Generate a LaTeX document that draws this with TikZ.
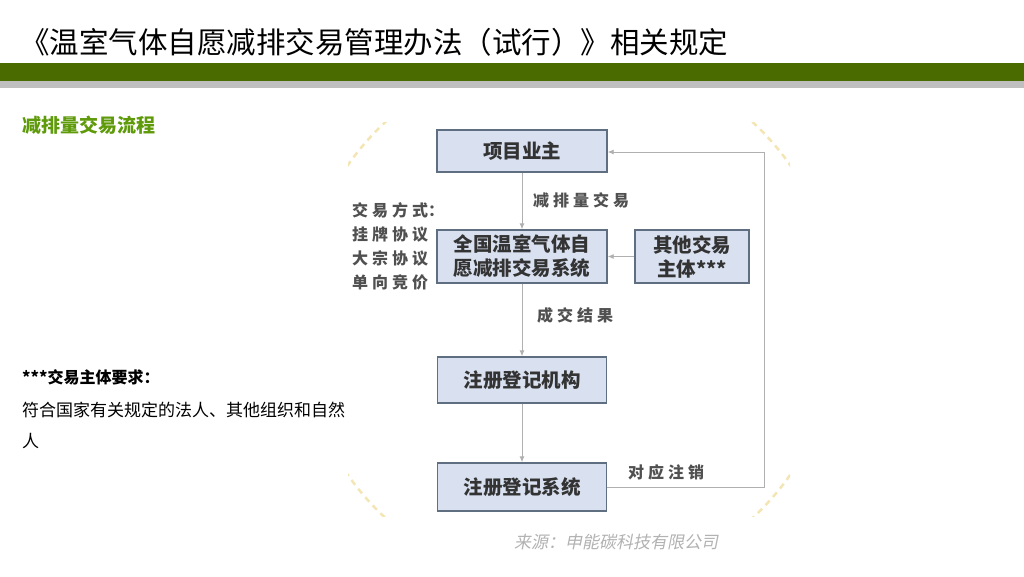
\documentclass[tikz,border=0pt]{standalone}
\usepackage{fontspec}
\setmainfont{Noto Sans CJK SC}
\newfontfamily\slantcjk[FakeSlant=0.2]{Noto Sans CJK SC}
\usetikzlibrary{arrows.meta}
\definecolor{barGreen}{HTML}{4A6B00}
\definecolor{headGreen}{HTML}{5E9A0A}
\definecolor{boxFill}{HTML}{D9E1F1}
\definecolor{boxLine}{HTML}{5F6E80}
\definecolor{connGray}{HTML}{B0B0B0}
\definecolor{labGray}{HTML}{505050}
\definecolor{ringYellow}{HTML}{F3E6B4}
\tikzset{
  flowbox/.style={draw=boxLine, line width=1.4pt, fill=boxFill, inner sep=0pt, align=center,
    font=\fontsize{19.5}{24}\selectfont\bfseries, text=black!80},
  conn/.style={draw=connGray, line width=0.9pt, -{Latex[length=6pt,width=5pt]}},
  flowlabel/.style={inner sep=0pt, anchor=west, text=labGray, font=\fontsize{16}{24}\selectfont\bfseries},
  plain/.style={inner sep=0pt, anchor=west}
}
\begin{document}
\begin{tikzpicture}[x=1pt,y=-1pt]
\useasboundingbox (0,0) rectangle (1024,576);
\fill[white] (0,0) rectangle (1024,576);
% title and bars
\node[plain, font=\fontsize{29.5}{32}\selectfont] (title) at (20,42) {《温室气体自愿减排交易管理办法（试行）》相关规定};
\fill[barGreen] (0,63) rectangle (1024,81);
\fill[black!25] (0,81) rectangle (1024,88);
% left texts
\node[plain, font=\fontsize{19}{22}\selectfont\bfseries, text=headGreen] (head) at (22,125) {减排量交易流程};
\node[plain, font=\fontsize{16}{20}\selectfont\bfseries] (req) at (22,377) {***交易主体要求：};
\node[plain, font=\fontsize{17}{20}\selectfont] (reqa) at (22,410) {符合国家有关规定的法人、其他组织和自然};
\node[plain, font=\fontsize{17}{20}\selectfont] (reqb) at (22,441) {人};
\node[plain, font=\fontsize{17}{20}\slantcjk, text=black!30] (src) at (514,542) {来源：申能碳科技有限公司};
% ring decoration
\begin{scope}
\clip (348,122) rectangle (790,516);
\draw[ringYellow, line width=2.5pt, dash pattern=on 6pt off 5pt] (569,320) circle (270);
\end{scope}
% boxes
\node[flowbox, minimum width=170, minimum height=42] (owner) at (522,151) {项目业主};
\node[flowbox, minimum width=170, minimum height=53] (sys) at (522,256.5) {全国温室气体自\\愿减排交易系统};
\node[flowbox, minimum width=114, minimum height=53] (other) at (692,256.5) {其他交易\\主体***};
\node[flowbox, minimum width=169, minimum height=46] (reg) at (522,380) {注册登记机构};
\node[flowbox, minimum width=169, minimum height=48] (regsys) at (522,487) {注册登记系统};
\coordinate (cr1) at (764,487);
\coordinate (cr2) at (764,152);
% connectors
\draw[conn] (owner) -- (sys);
\draw[conn] (sys) -- (reg);
\draw[conn] (reg) -- (regsys);
\draw[conn] (other) -- (sys);
\draw[conn] (regsys.east) -- (cr1) -- (cr2) -- (owner.east |- cr2);
% labels
\node[flowlabel] (l1) at (533,200) {减\hspace{4pt}排\hspace{4pt}量\hspace{4pt}交\hspace{4pt}易};
\node[flowlabel] (l2) at (537,315) {成\hspace{4pt}交\hspace{4pt}结\hspace{4pt}果};
\node[flowlabel] (l3) at (628,472) {对\hspace{4pt}应\hspace{4pt}注\hspace{4pt}销};
\node[flowlabel, align=left, anchor=north west, font=\fontsize{16}{24}\selectfont\bfseries] (modes) at (352,202) {交\hspace{4pt}易\hspace{4pt}方\hspace{4pt}式：\\挂\hspace{4pt}牌\hspace{4pt}协\hspace{4pt}议\\大\hspace{4pt}宗\hspace{4pt}协\hspace{4pt}议\\单\hspace{4pt}向\hspace{4pt}竞\hspace{4pt}价};
\end{tikzpicture}
\end{document}
